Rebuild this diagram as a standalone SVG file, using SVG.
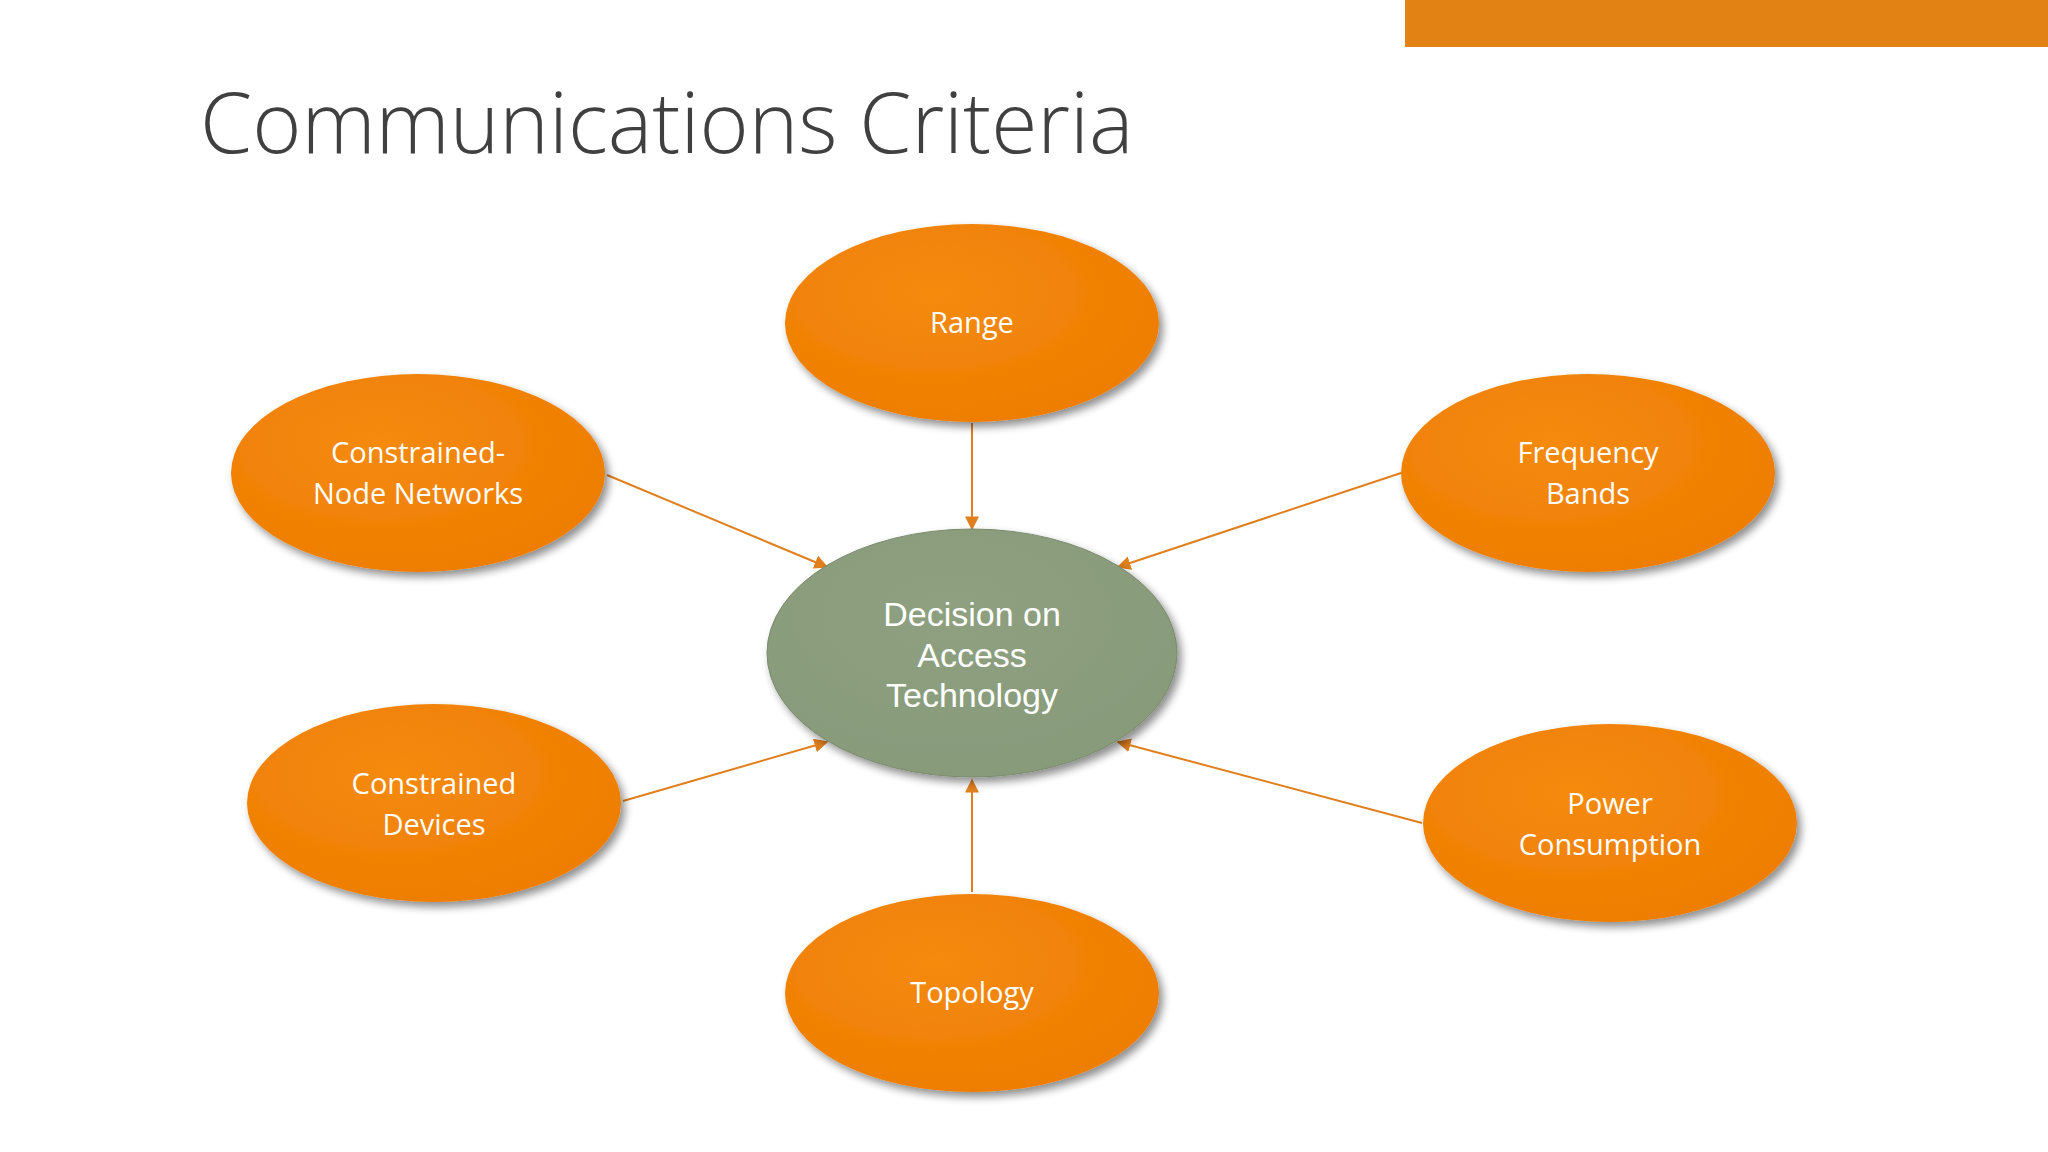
<svg xmlns="http://www.w3.org/2000/svg" width="2048" height="1152" viewBox="0 0 2048 1152">
<style>
.o{fill:url(#og);filter:url(#sh)}
.c{fill:url(#gg);filter:url(#sh);stroke:#7a8a6c;stroke-width:1}
.t{font-family:"Open Sans","Liberation Sans",sans-serif;font-size:29px;fill:#fff;text-anchor:middle}
.ct{font-family:"Liberation Sans",Arial,sans-serif;font-size:34px;fill:#fff;text-anchor:middle}
.l{stroke:#e07f1e;stroke-width:2;fill:none;marker-end:url(#ah)}
</style>
<defs>
<radialGradient id="og" cx="0.4" cy="0.35" r="0.7"><stop offset="0" stop-color="#f58a0f"/><stop offset="1" stop-color="#ee7d00"/></radialGradient>
<radialGradient id="gg" cx="0.45" cy="0.35" r="0.7"><stop offset="0" stop-color="#8ea080"/><stop offset="1" stop-color="#879a79"/></radialGradient>
<filter id="sh" x="-20%" y="-20%" width="140%" height="150%"><feGaussianBlur in="SourceAlpha" stdDeviation="4"/><feOffset dx="4" dy="5"/><feComponentTransfer><feFuncA type="linear" slope="0.45"/></feComponentTransfer><feMerge><feMergeNode/><feMergeNode in="SourceGraphic"/></feMerge></filter>
<marker id="ah" viewBox="0 0 10 10" refX="9" refY="5" markerWidth="7" markerHeight="7" orient="auto"><path d="M0,0L10,5L0,10z" fill="#e07f1e"/></marker>
</defs>
<rect width="2048" height="1152" fill="#fff"/>
<rect x="1405" y="0" width="643" height="47" fill="#e38214"/>
<text x="200" y="153" font-family="'Open Sans','Liberation Sans',sans-serif" font-weight="300" font-size="84" fill="#404040">Communications Criteria</text>
<g id="connectors">
<line class="l" x1="972" y1="423" x2="972" y2="529"/>
<line class="l" x1="607" y1="475" x2="827" y2="567"/>
<line class="l" x1="1401" y1="473" x2="1118" y2="567"/>
<line class="l" x1="623" y1="801" x2="827" y2="742"/>
<line class="l" x1="1422" y1="823" x2="1118" y2="742"/>
<line class="l" x1="972" y1="892" x2="972" y2="780"/>
</g>
<g id="center"><ellipse class="c" cx="972" cy="653" rx="205" ry="124"/><text class="ct" x="972" y="626">Decision on</text><text class="ct" x="972" y="667">Access</text><text class="ct" x="972" y="707">Technology</text></g>
<g id="range"><ellipse class="o" cx="972" cy="323" rx="187" ry="99"/><text class="t" x="972" y="333">Range</text></g>
<g id="cnn"><ellipse class="o" cx="418" cy="473" rx="187" ry="99"/><text class="t" x="418" y="463">Constrained-</text><text class="t" x="418" y="504">Node Networks</text></g>
<g id="freq"><ellipse class="o" cx="1588" cy="473" rx="187" ry="99"/><text class="t" x="1588" y="463">Frequency</text><text class="t" x="1588" y="504">Bands</text></g>
<g id="devices"><ellipse class="o" cx="434" cy="803" rx="187" ry="99"/><text class="t" x="434" y="794">Constrained</text><text class="t" x="434" y="835">Devices</text></g>
<g id="power"><ellipse class="o" cx="1610" cy="823" rx="187" ry="99"/><text class="t" x="1610" y="814">Power</text><text class="t" x="1610" y="855">Consumption</text></g>
<g id="topology"><ellipse class="o" cx="972" cy="993" rx="187" ry="99"/><text class="t" x="972" y="1003">Topology</text></g>
</svg>
